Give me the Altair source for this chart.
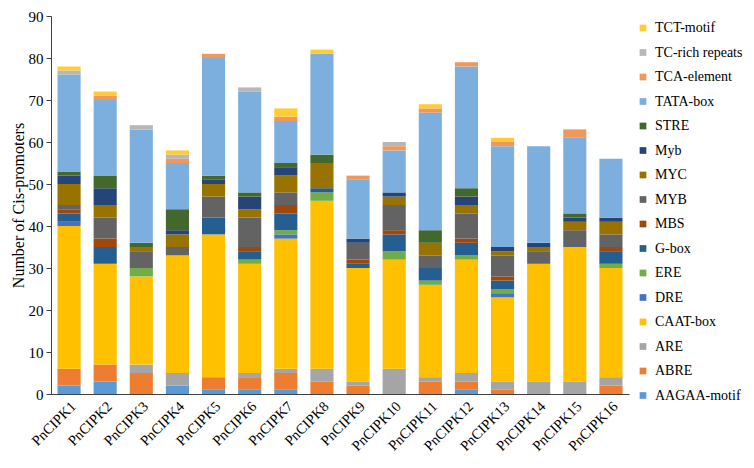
import altair as alt
import pandas as pd

genes = [f"PnCIPK{i}" for i in range(1, 17)]

elements = ["AAGAA-motif", "ABRE", "ARE", "CAAT-box", "DRE", "ERE", "G-box", "MBS",
            "MYB", "MYC", "Myb", "STRE", "TATA-box", "TCA-element", "TC-rich repeats", "TCT-motif"]

colors = ["#5B9BD5", "#ED7D31", "#A5A5A5", "#FFC000", "#4472C4", "#70AD47", "#255E91", "#9E480E",
          "#636363", "#997300", "#264478", "#43682B", "#7CAFDD", "#F1975A", "#B7B7B7", "#FFCD33"]

aagaa = [2, 3, 0, 2, 1, 1, 1, 0, 0, 0, 0, 1, 0, 0, 0, 0]
abre = [4, 4, 5, 0, 3, 3, 4, 3, 2, 0, 3, 2, 1, 0, 0, 2]
are = [0, 0, 2, 3, 0, 1, 1, 3, 1, 6, 1, 2, 2, 3, 3, 2]
caat = [34, 24, 21, 28, 34, 26, 31, 40, 27, 26, 22, 27, 20, 28, 32, 26]
dre = [1, 0, 0, 0, 0, 0, 1, 0, 0, 0, 0, 0, 1, 0, 0, 0]
ere = [0, 0, 2, 0, 0, 1, 1, 2, 0, 2, 1, 1, 1, 0, 0, 1]
gbox = [2, 4, 0, 0, 4, 2, 4, 1, 1, 4, 3, 3, 2, 0, 0, 3]
mbs = [1, 2, 0, 0, 0, 1, 2, 0, 1, 1, 0, 1, 1, 0, 0, 1]
myb_upper = [1, 5, 4, 2, 5, 7, 3, 0, 4, 6, 3, 6, 5, 3, 4, 3]
myc = [5, 3, 1, 3, 3, 2, 4, 6, 0, 2, 3, 2, 1, 1, 2, 3]
myb_lower = [2, 4, 0, 1, 1, 3, 2, 0, 1, 1, 0, 2, 1, 1, 1, 1]
stre = [1, 3, 1, 5, 1, 1, 1, 2, 0, 0, 3, 2, 0, 0, 1, 0]
tata = [23, 18, 27, 11, 28, 24, 10, 24, 14, 10, 28, 29, 24, 23, 18, 14]
tca = [0, 1, 0, 1, 1, 0, 1, 0, 1, 1, 1, 1, 1, 0, 2, 0]
tcrich = [1, 0, 1, 1, 0, 1, 0, 0, 0, 1, 0, 0, 0, 0, 0, 0]
tct = [1, 1, 0, 1, 0, 0, 2, 1, 0, 0, 1, 0, 1, 0, 0, 0]

series = [aagaa, abre, are, caat, dre, ere, gbox, mbs, myb_upper, myc, myb_lower,
          stre, tata, tca, tcrich, tct]

rows = []
for k, (el, vals) in enumerate(zip(elements, series)):
    for g, v in zip(genes, vals):
        rows.append({"gene": g, "element": el, "value": v, "idx": k})
df = pd.DataFrame(rows)

FONT = "Liberation Serif"

chart = alt.Chart(df).mark_bar().encode(
    x=alt.X("gene:N", sort=genes,
            scale=alt.Scale(paddingInner=0.36, paddingOuter=0.18),
            axis=alt.Axis(title=None, labelAngle=-45, ticks=False, labelFontSize=14.5,
                          labelPadding=5, labelColor="#000000")),
    y=alt.Y("value:Q", stack="zero",
            scale=alt.Scale(domain=[0, 90], nice=False),
            axis=alt.Axis(title="Number of Cis-promoters", values=list(range(0, 91, 10)),
                          grid=False, tickSize=5, labelFontSize=15, titleFontSize=16,
                          titleFontWeight="normal", titlePadding=2, labelColor="#000000",
                          titleColor="#000000", labelPadding=3)),
    color=alt.Color("element:N",
                    scale=alt.Scale(domain=elements[::-1], range=colors[::-1]),
                    legend=alt.Legend(title=None, orient="none", legendX=585, legendY=5,
                                      symbolType="square", symbolSize=45, symbolStrokeWidth=0,
                                      labelFontSize=14, labelFont=FONT, rowPadding=10.5,
                                      labelColor="#000000", labelOffset=5, labelLimit=200)),
    order=alt.Order("idx:Q", sort="ascending"),
).properties(
    width=578, height=378,
    autosize=alt.AutoSizeParams(type="none"),
    padding={"left": 43, "top": 8, "right": 117, "bottom": 66},
).configure_view(stroke=None).configure_axis(
    labelFont=FONT, titleFont=FONT, domainColor="#404040", tickColor="#404040"
).configure_legend(labelFont=FONT)

chart.save("out.html", embed_options={"renderer": "svg", "actions": False})
